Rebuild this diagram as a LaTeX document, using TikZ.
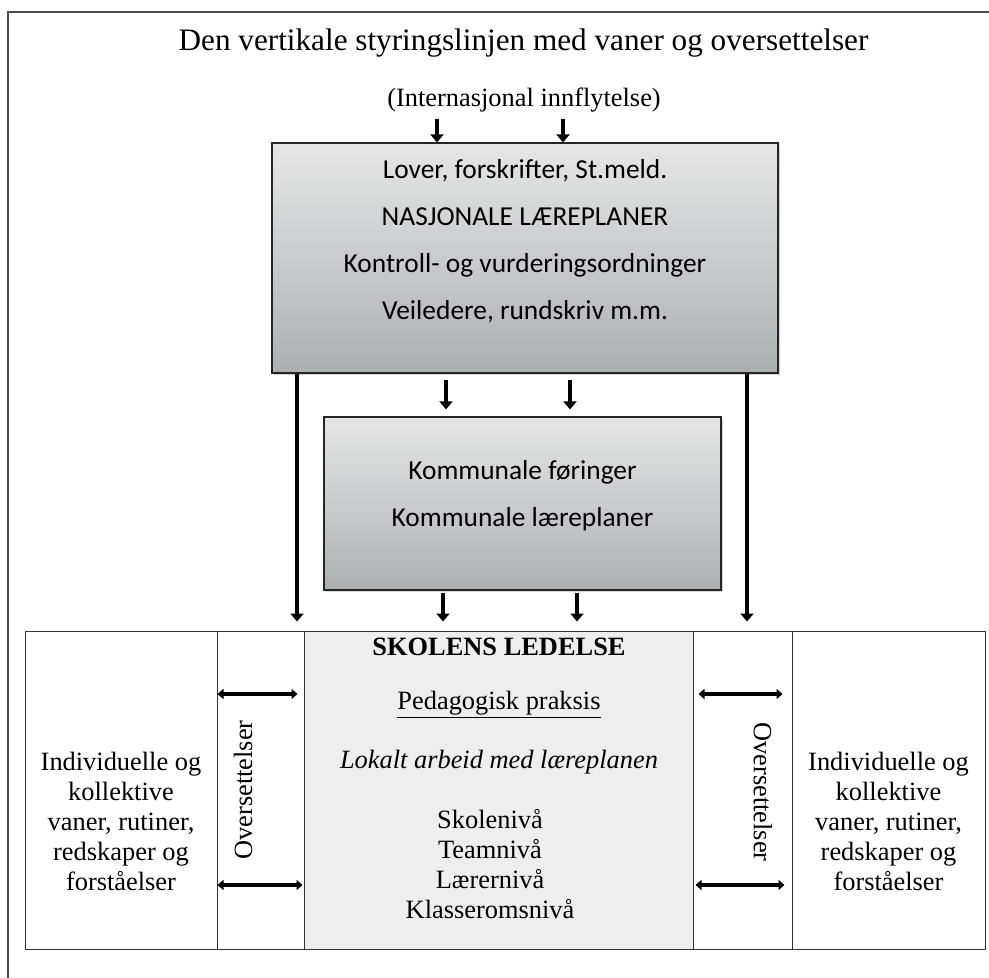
\documentclass[tikz,border=0pt]{standalone}
\usepackage{fontspec}
\setmainfont{Liberation Serif}
\newfontfamily\calibri{Carlito}
\usepackage{xcolor}
\usetikzlibrary{arrows.meta,shadows}

\definecolor{boxtop}{HTML}{E6E6E6}
\definecolor{boxbot}{HTML}{ADB0B2}
\definecolor{ledgray}{HTML}{EEEEEE}

\tikzset{
  boks/.style={draw=black!85, line width=0.6pt, top color=boxtop, bottom color=boxbot,
               drop shadow={shadow xshift=1pt, shadow yshift=-1pt, opacity=.35}},
  celle/.style={draw=black!80, line width=0.5pt, inner sep=0pt, minimum height=159pt},
  tekst/.style={align=center, inner sep=0pt, font=\fontsize{13.2}{15}\selectfont},
  tittel/.style={inner sep=0pt, font=\fontsize{15.6}{18}\selectfont},
  calib/.style={align=center, inner sep=0pt, font=\calibri\fontsize{13.7}{23.5}\selectfont},
  pil/.style={line width=2pt, -{Triangle[length=4pt,width=6.5pt]}},
  dobbelpil/.style={line width=1.7pt, {Triangle[length=3pt,width=5pt]}-{Triangle[length=3pt,width=5pt]}}
}

\begin{document}
\begin{tikzpicture}[x=0.5pt,y=-0.5pt]
          % ------- frame -------
          \useasboundingbox (0,0) rectangle (989,978);
          \draw[black!70, line width=0.8pt] (8,978) -- (8,12) -- (989,12);

          % ------- headings -------
          \node[tittel] (tittel) at (523.5,43) {Den vertikale styringslinjen med vaner og oversettelser};
          \node[tekst] (intl) at (524,100) {(Internasjonal innflytelse)};

          % ------- national and municipal boxes -------
          \node[boks, minimum width=253pt, minimum height=115pt] (nasj) at (525,258) {};
          \node[calib] (nasjtekst) at (525,241) {Lover, forskrifter, St.meld.\\
                NASJONALE LÆREPLANER\\Kontroll- og vurderingsordninger\\Veiledere, rundskriv m.m.};
          \node[boks, minimum width=198.5pt, minimum height=86.5pt] (komm) at (522.5,503.5) {};
          \node[calib] (kommtekst) at (522.5,496) {Kommunale føringer\\Kommunale læreplaner};

          % ------- bottom row -------
          \node[celle, minimum width=96pt] (vanerV) at (121,790) {};
          \node[celle, minimum width=43.5pt] (overV) at (260.5,790) {};
          \node[celle, fill=ledgray, minimum width=194.5pt] (ledelse) at (498.5,790) {};
          \node[celle, minimum width=49.5pt] (overH) at (742.5,790) {};
          \node[celle, minimum width=96.5pt] (vanerH) at (888.5,790) {};

          \node[tekst] (vanerVtekst) at (121,821) {Individuelle og\\kollektive\\vaner, rutiner,\\redskaper og\\forståelser};
          \node[tekst] (vanerHtekst) at (888.5,821) {Individuelle og\\kollektive\\vaner, rutiner,\\redskaper og\\forståelser};
          \node[tekst, rotate=90] (overVtekst) at (243,790) {Oversettelser};
          \node[tekst, rotate=-90] (overHtekst) at (763,792) {Oversettelser};

          \node[tekst] (skl) at (499,647) {\textbf{SKOLENS LEDELSE}};
          \node[tekst] (ped) at (499,705) {\underline{Pedagogisk praksis}};
          \node[tekst] (lok) at (499,762) {\textit{Lokalt arbeid med læreplanen}};
          \node[tekst] (niva) at (490,864) {Skolenivå\\Teamnivå\\Lærernivå\\Klasseromsnivå};

          % ------- arrow positions -------
          \coordinate (p1) at (437,0);
          \coordinate (p2) at (563,0);
          \coordinate (p3) at (446,0);
          \coordinate (p4) at (570,0);
          \coordinate (p5) at (297,0);
          \coordinate (p6) at (747,0);
          \coordinate (p7) at (443,0);
          \coordinate (p8) at (577,0);
          \coordinate (h1) at (0,694);
          \coordinate (h2) at (0,885);

          % ------- downward arrows -------
          \draw[pil, shorten <=3pt] (intl.south -| p1) -- (nasj.north -| p1);
          \draw[pil, shorten <=3pt] (intl.south -| p2) -- (nasj.north -| p2);
          \draw[pil, shorten <=3pt, shorten >=3.5pt] (nasj.south -| p3) -- (komm.north -| p3);
          \draw[pil, shorten <=3pt, shorten >=3.5pt] (nasj.south -| p4) -- (komm.north -| p4);
          \draw[pil, shorten >=4.5pt] (nasj.south -| p5) -- (overV.north -| p5);   % left, past the municipality
          \draw[pil, shorten >=4.5pt] (nasj.south -| p6) -- (overH.north -| p6);   % right, past the municipality
          \draw[pil, shorten <=1pt, shorten >=4.5pt] (komm.south -| p7) -- (ledelse.north -| p7);
          \draw[pil, shorten <=1pt, shorten >=4.5pt] (komm.south -| p8) -- (ledelse.north -| p8);

          % ------- translations -------
          \draw[dobbelpil, shorten <=0.5pt, shorten >=3pt] (overV.west |- h1) -- (ledelse.west |- h1);
          \draw[dobbelpil, shorten <=0.5pt, shorten >=0.5pt] (overV.west |- h2) -- (ledelse.west |- h2);
          \draw[dobbelpil, shorten <=3pt, shorten >=4.5pt] (overH.west |- h1) -- (vanerH.west |- h1);
          \draw[dobbelpil, shorten <=1.5pt, shorten >=3.5pt] (overH.west |- h2) -- (vanerH.west |- h2);
        \end{tikzpicture}
\end{document}
